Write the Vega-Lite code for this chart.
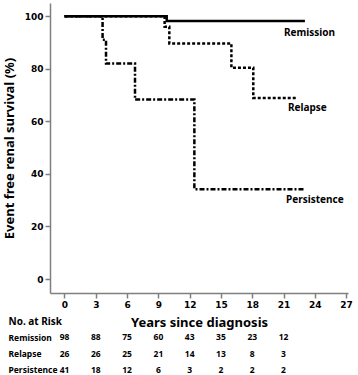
{
  "$schema": "https://vega.github.io/schema/vega-lite/v6.json",
  "padding": {"left": 3, "top": 3, "right": 0, "bottom": 0},
  "bounds": "flush",
  "spacing": 24,
  "config": {
    "view": {"stroke": null},
    "font": "Noto Sans",
    "axis": {
      "grid": false,
      "labelFont": "DejaVu Sans",
      "labelFontWeight": "bold",
      "labelFontSize": 9,
      "labelColor": "black",
      "labelOverlap": false,
      "domainColor": "#7f7f7f",
      "domainWidth": 1.5,
      "tickColor": "#7f7f7f",
      "tickWidth": 1.5,
      "tickSize": 5,
      "titleFont": "Noto Sans",
      "titleFontWeight": "bold",
      "titleFontSize": 13,
      "titleColor": "black"
    }
  },
  "datasets": {
    "curves": [
      {"group": "Remission", "t": 0, "s": 100},
      {"group": "Remission", "t": 9.8, "s": 98.2},
      {"group": "Remission", "t": 23.05, "s": 98.2},
      {"group": "Relapse", "t": 0, "s": 100},
      {"group": "Relapse", "t": 9.6, "s": 96},
      {"group": "Relapse", "t": 10.05, "s": 89.6},
      {"group": "Relapse", "t": 16.0, "s": 80.4},
      {"group": "Relapse", "t": 18.1, "s": 68.9},
      {"group": "Relapse", "t": 22.2, "s": 68.9},
      {"group": "Persistence", "t": 0, "s": 100},
      {"group": "Persistence", "t": 3.65, "s": 91},
      {"group": "Persistence", "t": 3.98, "s": 82},
      {"group": "Persistence", "t": 6.76, "s": 68.3},
      {"group": "Persistence", "t": 12.45, "s": 34.2},
      {"group": "Persistence", "t": 23.05, "s": 34.2}
    ],
    "labels": [
      {"label": "Remission", "t": 21.05, "s": 93.5},
      {"label": "Relapse", "t": 21.43, "s": 65.0},
      {"label": "Persistence", "t": 21.24, "s": 30.0}
    ],
    "risk": [
      {"row": "Remission", "t": 0, "n": "98"},
      {"row": "Remission", "t": 3, "n": "88"},
      {"row": "Remission", "t": 6, "n": "75"},
      {"row": "Remission", "t": 9, "n": "60"},
      {"row": "Remission", "t": 12, "n": "43"},
      {"row": "Remission", "t": 15, "n": "35"},
      {"row": "Remission", "t": 18, "n": "23"},
      {"row": "Remission", "t": 21, "n": "12"},
      {"row": "Relapse", "t": 0, "n": "26"},
      {"row": "Relapse", "t": 3, "n": "26"},
      {"row": "Relapse", "t": 6, "n": "25"},
      {"row": "Relapse", "t": 9, "n": "21"},
      {"row": "Relapse", "t": 12, "n": "14"},
      {"row": "Relapse", "t": 15, "n": "13"},
      {"row": "Relapse", "t": 18, "n": "8"},
      {"row": "Relapse", "t": 21, "n": "3"},
      {"row": "Persistence", "t": 0, "n": "41"},
      {"row": "Persistence", "t": 3, "n": "18"},
      {"row": "Persistence", "t": 6, "n": "12"},
      {"row": "Persistence", "t": 9, "n": "6"},
      {"row": "Persistence", "t": 12, "n": "3"},
      {"row": "Persistence", "t": 15, "n": "2"},
      {"row": "Persistence", "t": 18, "n": "2"},
      {"row": "Persistence", "t": 21, "n": "2"}
    ]
  },
  "vconcat": [
    {
      "width": 298,
      "height": 290,
      "layer": [
        {
          "data": {"name": "curves"},
          "mark": {"type": "line", "interpolate": "step-after", "strokeWidth": 2.5, "color": "black", "strokeCap": "butt"},
          "encoding": {
            "x": {
              "field": "t", "type": "quantitative",
              "scale": {"domain": [-1.39, 27.18], "nice": false, "zero": false},
              "axis": {"values": [0, 3, 6, 9, 12, 15, 18, 21, 24, 27], "tickCount": 12, "title": "Years since diagnosis", "labelPadding": 2, "titlePadding": 7}
            },
            "y": {
              "field": "s", "type": "quantitative",
              "scale": {"domain": [-5.3, 105], "nice": false},
              "axis": {"values": [0, 20, 40, 60, 80, 100], "tickCount": 8, "title": "Event free renal survival (%)", "labelPadding": 2, "titlePadding": 8}
            },
            "strokeDash": {
              "field": "group", "type": "nominal",
              "scale": {"domain": ["Remission", "Relapse", "Persistence"], "range": [[1, 0], [3, 2], [5, 2, 2, 2]]},
              "legend": null
            }
          }
        },
        {
          "data": {"name": "labels"},
          "mark": {"type": "text", "align": "left", "baseline": "middle", "fontSize": 10, "fontWeight": "bold", "font": "Noto Sans", "color": "black"},
          "encoding": {
            "x": {"field": "t", "type": "quantitative"},
            "y": {"field": "s", "type": "quantitative"},
            "text": {"field": "label"}
          }
        }
      ]
    },
    {
      "width": 298,
      "height": 57,
      "data": {"name": "risk"},
      "mark": {"type": "text", "fontSize": 8.5, "fontWeight": "bold", "font": "Noto Sans", "color": "black"},
      "encoding": {
        "x": {
          "field": "t", "type": "quantitative",
          "scale": {"domain": [-1.39, 27.18], "nice": false, "zero": false},
          "axis": null
        },
        "y": {
          "field": "row", "type": "ordinal",
          "scale": {"type": "point", "domain": ["No. at Risk", "Remission", "Relapse", "Persistence"], "padding": 0.25},
          "axis": {
            "title": null, "domain": false, "ticks": false, "tickSize": 0,
            "labelAlign": "left", "labelPadding": 42,
            "labelFont": "Noto Sans", "labelFontWeight": "bold", "labelColor": "black",
            "labelFontSize": {"condition": {"test": "datum.value == 'No. at Risk'", "value": 10}, "value": 8.5}
          }
        },
        "text": {"field": "n", "type": "nominal"}
      }
    }
  ]
}
